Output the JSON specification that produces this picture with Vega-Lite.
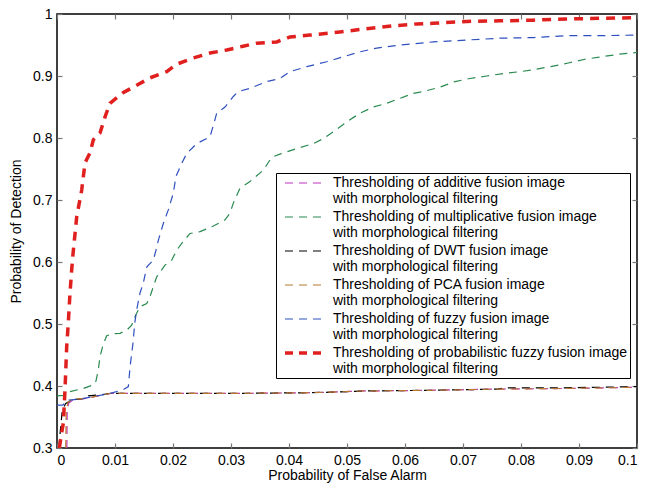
{
  "$schema": "https://vega.github.io/schema/vega-lite/v6.json",
  "width": 580,
  "height": 434,
  "autosize": "none",
  "padding": {"left": 57, "top": 14, "right": 16, "bottom": 37},
  "background": "white",
  "config": {
    "font": "Liberation Sans",
    "view": {"stroke": "black", "strokeWidth": 1.5},
    "axis": {"grid": false, "domain": false, "tickSize": -5, "tickColor": "#777", "tickWidth": 1.2, "labelFont": "Liberation Sans", "labelFontSize": 14, "labelColor": "black", "titleFont": "Liberation Sans", "titleFontSize": 14, "titleFontWeight": "normal", "titleColor": "black"}
  },
  "data": {"values": [
    {"s":"additive","x":0.0017,"y":0.30},{"s":"additive","x":0.00175,"y":0.36},{"s":"additive","x":0.002,"y":0.372},{"s":"additive","x":0.0028,"y":0.378},{"s":"additive","x":0.005,"y":0.380},{"s":"additive","x":0.0075,"y":0.385},{"s":"additive","x":0.0092,"y":0.388},{"s":"additive","x":0.03,"y":0.388},{"s":"additive","x":0.042,"y":0.389},{"s":"additive","x":0.047,"y":0.390},{"s":"additive","x":0.053,"y":0.392},{"s":"additive","x":0.064,"y":0.393},{"s":"additive","x":0.076,"y":0.395},{"s":"additive","x":0.087,"y":0.396},{"s":"additive","x":0.094,"y":0.397},{"s":"additive","x":0.1,"y":0.398},

    {"s":"multiplicative","x":0.0,"y":0.384},{"s":"multiplicative","x":0.00109,"y":0.385},{"s":"multiplicative","x":0.00224,"y":0.391},{"s":"multiplicative","x":0.00453,"y":0.396},{"s":"multiplicative","x":0.00626,"y":0.402},{"s":"multiplicative","x":0.00672,"y":0.408},{"s":"multiplicative","x":0.00712,"y":0.426},{"s":"multiplicative","x":0.00741,"y":0.447},{"s":"multiplicative","x":0.00793,"y":0.466},{"s":"multiplicative","x":0.00857,"y":0.481},{"s":"multiplicative","x":0.00943,"y":0.484},{"s":"multiplicative","x":0.01086,"y":0.485},{"s":"multiplicative","x":0.01202,"y":0.490},{"s":"multiplicative","x":0.01288,"y":0.498},{"s":"multiplicative","x":0.01345,"y":0.512},{"s":"multiplicative","x":0.01431,"y":0.528},{"s":"multiplicative","x":0.01547,"y":0.533},{"s":"multiplicative","x":0.01603,"y":0.544},{"s":"multiplicative","x":0.0166,"y":0.560},{"s":"multiplicative","x":0.01719,"y":0.576},{"s":"multiplicative","x":0.01862,"y":0.595},{"s":"multiplicative","x":0.01978,"y":0.603},{"s":"multiplicative","x":0.02064,"y":0.619},{"s":"multiplicative","x":0.0215,"y":0.630},{"s":"multiplicative","x":0.02293,"y":0.646},{"s":"multiplicative","x":0.02466,"y":0.649},{"s":"multiplicative","x":0.02695,"y":0.658},{"s":"multiplicative","x":0.02897,"y":0.668},{"s":"multiplicative","x":0.02983,"y":0.679},{"s":"multiplicative","x":0.0304,"y":0.695},{"s":"multiplicative","x":0.03155,"y":0.719},{"s":"multiplicative","x":0.03328,"y":0.730},{"s":"multiplicative","x":0.03557,"y":0.748},{"s":"multiplicative","x":0.03702,"y":0.769},{"s":"multiplicative","x":0.03845,"y":0.774},{"s":"multiplicative","x":0.04133,"y":0.783},{"s":"multiplicative","x":0.04419,"y":0.791},{"s":"multiplicative","x":0.04591,"y":0.799},{"s":"multiplicative","x":0.04764,"y":0.810},{"s":"multiplicative","x":0.04995,"y":0.826},{"s":"multiplicative","x":0.05224,"y":0.840},{"s":"multiplicative","x":0.05453,"y":0.850},{"s":"multiplicative","x":0.05684,"y":0.856},{"s":"multiplicative","x":0.05914,"y":0.864},{"s":"multiplicative","x":0.06143,"y":0.872},{"s":"multiplicative","x":0.06316,"y":0.875},{"s":"multiplicative","x":0.06603,"y":0.882},{"s":"multiplicative","x":0.06862,"y":0.891},{"s":"multiplicative","x":0.07121,"y":0.896},{"s":"multiplicative","x":0.07409,"y":0.900},{"s":"multiplicative","x":0.07695,"y":0.904},{"s":"multiplicative","x":0.07983,"y":0.907},{"s":"multiplicative","x":0.08271,"y":0.911},{"s":"multiplicative","x":0.08557,"y":0.916},{"s":"multiplicative","x":0.08816,"y":0.921},{"s":"multiplicative","x":0.09103,"y":0.927},{"s":"multiplicative","x":0.09391,"y":0.931},{"s":"multiplicative","x":0.09678,"y":0.935},{"s":"multiplicative","x":0.1,"y":0.938},

    {"s":"DWT","x":0.0003,"y":0.30},{"s":"DWT","x":0.0009,"y":0.36},{"s":"DWT","x":0.0015,"y":0.372},{"s":"DWT","x":0.0028,"y":0.378},{"s":"DWT","x":0.005,"y":0.380},{"s":"DWT","x":0.0054,"y":0.384},{"s":"DWT","x":0.0075,"y":0.386},{"s":"DWT","x":0.0092,"y":0.388},{"s":"DWT","x":0.03,"y":0.388},{"s":"DWT","x":0.042,"y":0.389},{"s":"DWT","x":0.047,"y":0.390},{"s":"DWT","x":0.053,"y":0.392},{"s":"DWT","x":0.064,"y":0.393},{"s":"DWT","x":0.076,"y":0.395},{"s":"DWT","x":0.077,"y":0.397},{"s":"DWT","x":0.087,"y":0.397},{"s":"DWT","x":0.1,"y":0.399},

    {"s":"PCA","x":0.0015,"y":0.30},{"s":"PCA","x":0.0016,"y":0.36},{"s":"PCA","x":0.0019,"y":0.374},{"s":"PCA","x":0.0028,"y":0.379},{"s":"PCA","x":0.005,"y":0.380},{"s":"PCA","x":0.0075,"y":0.385},{"s":"PCA","x":0.0092,"y":0.388},{"s":"PCA","x":0.03,"y":0.388},{"s":"PCA","x":0.042,"y":0.389},{"s":"PCA","x":0.047,"y":0.390},{"s":"PCA","x":0.053,"y":0.392},{"s":"PCA","x":0.064,"y":0.393},{"s":"PCA","x":0.076,"y":0.395},{"s":"PCA","x":0.087,"y":0.396},{"s":"PCA","x":0.094,"y":0.397},{"s":"PCA","x":0.1,"y":0.398},

    {"s":"fuzzy","x":0.0,"y":0.369},{"s":"fuzzy","x":0.001,"y":0.369},{"s":"fuzzy","x":0.0017,"y":0.377},{"s":"fuzzy","x":0.004,"y":0.379},{"s":"fuzzy","x":0.0063,"y":0.383},{"s":"fuzzy","x":0.0092,"y":0.388},{"s":"fuzzy","x":0.0114,"y":0.394},{"s":"fuzzy","x":0.0123,"y":0.399},{"s":"fuzzy","x":0.0126,"y":0.431},{"s":"fuzzy","x":0.0131,"y":0.469},{"s":"fuzzy","x":0.0134,"y":0.501},{"s":"fuzzy","x":0.01374,"y":0.523},{"s":"fuzzy","x":0.01431,"y":0.550},{"s":"fuzzy","x":0.01488,"y":0.566},{"s":"fuzzy","x":0.01547,"y":0.592},{"s":"fuzzy","x":0.0166,"y":0.603},{"s":"fuzzy","x":0.01707,"y":0.619},{"s":"fuzzy","x":0.01747,"y":0.635},{"s":"fuzzy","x":0.01833,"y":0.662},{"s":"fuzzy","x":0.01919,"y":0.684},{"s":"fuzzy","x":0.02005,"y":0.711},{"s":"fuzzy","x":0.02052,"y":0.738},{"s":"fuzzy","x":0.0215,"y":0.759},{"s":"fuzzy","x":0.02236,"y":0.775},{"s":"fuzzy","x":0.02409,"y":0.791},{"s":"fuzzy","x":0.02638,"y":0.802},{"s":"fuzzy","x":0.02707,"y":0.824},{"s":"fuzzy","x":0.02753,"y":0.840},{"s":"fuzzy","x":0.02897,"y":0.850},{"s":"fuzzy","x":0.0304,"y":0.867},{"s":"fuzzy","x":0.03126,"y":0.875},{"s":"fuzzy","x":0.03328,"y":0.880},{"s":"fuzzy","x":0.03616,"y":0.891},{"s":"fuzzy","x":0.03845,"y":0.896},{"s":"fuzzy","x":0.04017,"y":0.907},{"s":"fuzzy","x":0.04305,"y":0.915},{"s":"fuzzy","x":0.0465,"y":0.923},{"s":"fuzzy","x":0.04936,"y":0.931},{"s":"fuzzy","x":0.05224,"y":0.939},{"s":"fuzzy","x":0.05512,"y":0.945},{"s":"fuzzy","x":0.05914,"y":0.950},{"s":"fuzzy","x":0.06488,"y":0.955},{"s":"fuzzy","x":0.07064,"y":0.958},{"s":"fuzzy","x":0.07638,"y":0.961},{"s":"fuzzy","x":0.08212,"y":0.962},{"s":"fuzzy","x":0.08788,"y":0.965},{"s":"fuzzy","x":0.09362,"y":0.965},{"s":"fuzzy","x":0.1,"y":0.966},

    {"s":"probabilistic fuzzy","x":0.0004,"y":0.300},{"s":"probabilistic fuzzy","x":0.0009,"y":0.330},{"s":"probabilistic fuzzy","x":0.00109,"y":0.340},{"s":"probabilistic fuzzy","x":0.00138,"y":0.394},{"s":"probabilistic fuzzy","x":0.00167,"y":0.463},{"s":"probabilistic fuzzy","x":0.00195,"y":0.502},{"s":"probabilistic fuzzy","x":0.00224,"y":0.550},{"s":"probabilistic fuzzy","x":0.00253,"y":0.587},{"s":"probabilistic fuzzy","x":0.00275,"y":0.612},{"s":"probabilistic fuzzy","x":0.0034,"y":0.673},{"s":"probabilistic fuzzy","x":0.00426,"y":0.716},{"s":"probabilistic fuzzy","x":0.00483,"y":0.760},{"s":"probabilistic fuzzy","x":0.00569,"y":0.776},{"s":"probabilistic fuzzy","x":0.00626,"y":0.797},{"s":"probabilistic fuzzy","x":0.00741,"y":0.808},{"s":"probabilistic fuzzy","x":0.00828,"y":0.834},{"s":"probabilistic fuzzy","x":0.00914,"y":0.856},{"s":"probabilistic fuzzy","x":0.01138,"y":0.873},{"s":"probabilistic fuzzy","x":0.01374,"y":0.885},{"s":"probabilistic fuzzy","x":0.01603,"y":0.897},{"s":"probabilistic fuzzy","x":0.01891,"y":0.907},{"s":"probabilistic fuzzy","x":0.02064,"y":0.919},{"s":"probabilistic fuzzy","x":0.02345,"y":0.929},{"s":"probabilistic fuzzy","x":0.02638,"y":0.937},{"s":"probabilistic fuzzy","x":0.02926,"y":0.942},{"s":"probabilistic fuzzy","x":0.03207,"y":0.948},{"s":"probabilistic fuzzy","x":0.03443,"y":0.953},{"s":"probabilistic fuzzy","x":0.03788,"y":0.955},{"s":"probabilistic fuzzy","x":0.04017,"y":0.963},{"s":"probabilistic fuzzy","x":0.04362,"y":0.966},{"s":"probabilistic fuzzy","x":0.04879,"y":0.971},{"s":"probabilistic fuzzy","x":0.05224,"y":0.975},{"s":"probabilistic fuzzy","x":0.05684,"y":0.980},{"s":"probabilistic fuzzy","x":0.06201,"y":0.984},{"s":"probabilistic fuzzy","x":0.06483,"y":0.985},{"s":"probabilistic fuzzy","x":0.07064,"y":0.988},{"s":"probabilistic fuzzy","x":0.07638,"y":0.989},{"s":"probabilistic fuzzy","x":0.08207,"y":0.990},{"s":"probabilistic fuzzy","x":0.08788,"y":0.992},{"s":"probabilistic fuzzy","x":0.09362,"y":0.993},{"s":"probabilistic fuzzy","x":0.1,"y":0.994}
  ]},
  "resolve": {"axis": {"x": "independent", "y": "independent"}},
  "layer": [
    {
      "transform": [{"filter": "datum.s !== 'probabilistic fuzzy'"}],
      "mark": {"type": "line", "clip": true, "strokeDash": [8, 6], "strokeCap": "butt", "strokeWidth": 1.2},
      "encoding": {
        "x": {"field": "x", "type": "quantitative", "scale": {"domain": [0, 0.1], "nice": false, "zero": false}, "axis": {"title": "Probability of False Alarm", "values": [0, 0.01, 0.02, 0.03, 0.04, 0.05, 0.06, 0.07, 0.08, 0.09, 0.1], "format": "~g", "labelPadding": 10, "titlePadding": 1}},
        "y": {"field": "y", "type": "quantitative", "scale": {"domain": [0.3, 1], "nice": false, "zero": false}, "axis": {"title": "Probability of Detection", "values": [0.3, 0.4, 0.5, 0.6, 0.7, 0.8, 0.9, 1], "format": "~g", "labelPadding": 10, "titlePadding": 9}},
        "color": {"field": "s", "type": "nominal", "scale": {"domain": ["additive", "multiplicative", "DWT", "PCA", "fuzzy", "probabilistic fuzzy"], "range": ["#c030c0", "#2a8a50", "#000000", "#b87a30", "#2f4fbf", "#e0201f"]},
          "legend": {"title": null, "orient": "none", "legendX": 219, "legendY": 159, "strokeColor": "black", "fillColor": "white", "padding": 2, "symbolType": "stroke", "symbolSize": 1600, "symbolDash": [8, 6], "symbolStrokeWidth": 1.2, "labelFont": "Liberation Sans", "labelFontSize": 14, "labelColor": "black", "labelLimit": 400, "rowPadding": 3,
            "labelExpr": "['Thresholding of ' + datum.label + ' fusion image', 'with morphological filtering']",
            "encode": {"labels": {"update": {"x": {"value": 55}, "y": {"value": 8}, "lineHeight": {"value": 15.5}}}, "symbols": {"update": {"x": {"value": 27}, "y": {"value": 8}, "strokeWidth": {"signal": "datum.value === 'probabilistic fuzzy' ? 3.5 : 1.2"}}}}}}
      }
    },
    {
      "transform": [{"filter": "datum.s === 'probabilistic fuzzy'"}],
      "mark": {"type": "line", "clip": true, "strokeDash": [9, 7], "strokeCap": "butt", "strokeWidth": 3.5},
      "encoding": {
        "x": {"field": "x", "type": "quantitative", "axis": null},
        "y": {"field": "y", "type": "quantitative", "axis": null},
        "color": {"field": "s", "type": "nominal",
          "legend": {"title": null, "orient": "none", "legendX": 219, "legendY": 159, "strokeColor": "black", "fillColor": "white", "padding": 2, "symbolType": "stroke", "symbolSize": 1600, "symbolDash": [8, 6], "symbolStrokeWidth": 1.2, "labelFont": "Liberation Sans", "labelFontSize": 14, "labelColor": "black", "labelLimit": 400, "rowPadding": 3,
            "labelExpr": "['Thresholding of ' + datum.label + ' fusion image', 'with morphological filtering']",
            "encode": {"labels": {"update": {"x": {"value": 55}, "y": {"value": 8}, "lineHeight": {"value": 15.5}}}, "symbols": {"update": {"x": {"value": 27}, "y": {"value": 8}, "strokeWidth": {"signal": "datum.value === 'probabilistic fuzzy' ? 3.5 : 1.2"}}}}}}
      }
    },
    {
      "mark": {"type": "point", "opacity": 0},
      "encoding": {
        "x": {"field": "x", "type": "quantitative", "axis": {"orient": "top", "labels": false, "title": null, "values": [0, 0.01, 0.02, 0.03, 0.04, 0.05, 0.06, 0.07, 0.08, 0.09, 0.1]}},
        "y": {"field": "y", "type": "quantitative", "axis": {"orient": "right", "labels": false, "title": null, "values": [0.3, 0.4, 0.5, 0.6, 0.7, 0.8, 0.9, 1]}}
      }
    }
  ]
}
